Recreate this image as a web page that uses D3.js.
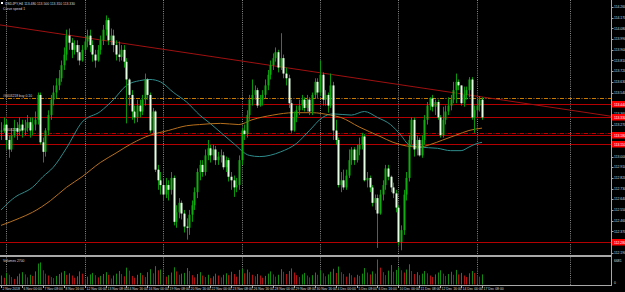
<!DOCTYPE html>
<html>
<head>
<meta charset="utf-8">
<script src="https://cdn.jsdelivr.net/npm/d3@7"></script>
<style>
  body { margin: 0; background: #000; }
  svg { display: block; font-family: "Liberation Sans", Arial, sans-serif; }
</style>
</head>
<body>
<div id="chart"></div>
<script>
// USDJPY H4 bars, 2 Nov 16:00 .. 17 Dec 08:00
const open = [
  113.21,113.22,113.27,113.14,113.06,113.18,113.24,113.21,113.27,113.22,
  113.24,113.29,113.22,113.27,113.31,113.52,113.12,113.04,113.22,113.35,
  113.48,113.54,113.60,113.66,113.77,113.86,114.02,113.96,113.90,113.94,
  113.88,113.81,113.90,113.97,114.02,113.94,113.86,113.81,113.90,113.98,
  114.07,114.15,113.98,114.02,113.94,113.86,113.84,113.90,113.80,113.65,
  113.52,113.38,113.33,113.43,113.38,113.48,113.65,113.52,113.22,113.38,
  112.89,112.80,112.76,112.68,112.76,112.72,112.82,112.45,112.53,112.61,
  112.52,112.41,112.40,112.51,112.59,112.70,112.87,112.93,112.87,113.01,
  113.07,113.01,113.06,112.97,113.00,113.01,112.91,112.97,112.83,112.80,
  112.74,112.76,112.97,113.22,113.19,113.35,113.48,113.52,113.56,113.43,
  113.48,113.52,113.60,113.69,113.77,113.83,113.88,113.75,113.83,113.70,
  113.66,113.45,113.22,113.33,113.39,113.43,113.48,113.41,113.48,113.38,
  113.52,113.63,113.54,113.69,113.48,113.52,113.43,113.60,113.22,113.14,
  112.76,112.80,112.74,112.84,112.97,113.06,112.97,113.06,113.10,113.17,
  112.80,112.82,112.74,112.61,112.65,112.52,112.68,112.76,112.90,112.83,
  112.74,112.69,112.57,112.28,112.38,112.68,112.82,113.14,113.31,113.06,
  113.14,113.01,113.14,113.31,113.43,113.49,113.42,113.46,113.33,113.18,
  113.31,113.38,113.43,113.48,113.56,113.63,113.60,113.45,113.52,113.56,
  113.65,113.33,113.39,113.43,113.48
];
const high = [
  113.29,113.33,113.31,113.18,113.24,113.31,113.29,113.33,113.31,113.31,
  113.35,113.33,113.33,113.38,113.54,113.54,113.16,113.24,113.39,113.52,
  113.60,113.66,113.73,113.81,113.92,114.07,114.08,114.00,113.98,113.98,
  113.94,113.94,114.02,114.07,114.07,113.98,113.90,113.94,114.02,114.11,
  114.19,114.17,114.08,114.07,113.98,113.97,113.94,113.94,113.83,113.66,
  113.56,113.43,113.48,113.48,113.52,113.70,113.66,113.54,113.41,113.39,
  112.93,112.87,112.82,112.82,112.80,112.87,112.84,112.59,112.65,112.63,
  112.55,112.48,112.55,112.63,112.74,112.90,112.97,112.97,113.06,113.14,
  113.10,113.10,113.09,113.04,113.06,113.04,113.00,112.99,112.87,112.84,
  112.82,113.01,113.24,113.27,113.39,113.52,113.65,113.60,113.58,113.52,
  113.56,113.65,113.73,113.81,113.87,113.92,113.90,114.04,113.86,113.75,
  113.69,113.48,113.38,113.43,113.48,113.52,113.50,113.52,113.50,113.54,
  113.66,113.66,113.81,113.71,113.56,113.54,113.70,113.63,113.31,113.16,
  112.87,112.89,112.89,113.06,113.08,113.08,113.10,113.16,113.20,113.19,
  112.87,112.84,112.76,112.68,112.68,112.72,112.80,112.93,112.93,112.84,
  112.78,112.72,112.59,112.42,112.72,112.87,113.18,113.33,113.33,113.18,
  113.16,113.18,113.35,113.46,113.50,113.52,113.48,113.48,113.35,113.42,
  113.43,113.50,113.52,113.63,113.70,113.65,113.60,113.59,113.59,113.67,
  113.67,113.43,113.48,113.51,113.50
];
const low = [
  113.14,113.20,113.06,112.99,113.04,113.16,113.14,113.18,113.16,113.18,
  113.21,113.16,113.18,113.22,113.27,113.10,112.95,113.00,113.18,113.31,
  113.43,113.49,113.56,113.63,113.73,113.81,113.90,113.83,113.86,113.81,
  113.77,113.80,113.86,113.92,113.88,113.80,113.75,113.80,113.86,113.94,
  114.02,113.94,113.94,113.88,113.81,113.80,113.81,113.75,113.28,113.43,
  113.31,113.28,113.29,113.33,113.35,113.43,113.48,113.20,113.18,112.87,
  112.72,112.68,112.63,112.65,112.63,112.68,112.42,112.40,112.48,112.47,
  112.36,112.30,112.34,112.45,112.55,112.65,112.80,112.83,112.84,112.97,
  112.95,112.97,112.93,112.93,112.95,112.89,112.87,112.79,112.72,112.66,
  112.70,112.72,112.93,113.14,113.16,113.31,113.43,113.48,113.41,113.42,
  113.43,113.49,113.56,113.65,113.73,113.80,113.71,113.73,113.66,113.60,
  113.41,113.20,113.21,113.29,113.35,113.39,113.38,113.38,113.35,113.35,
  113.49,113.49,113.51,113.43,113.43,113.37,113.41,113.14,113.10,112.74,
  112.70,112.72,112.72,112.82,112.93,112.93,112.95,113.01,113.06,112.79,
  112.74,112.70,112.58,112.55,112.23,112.51,112.63,112.72,112.80,112.70,
  112.65,112.53,112.25,112.21,112.34,112.63,112.79,113.10,113.00,113.01,
  113.00,112.99,113.10,113.27,113.39,113.38,113.35,113.31,113.16,113.16,
  113.27,113.35,113.39,113.45,113.45,113.56,113.43,113.42,113.48,113.50,
  113.31,113.20,113.33,113.38,113.31
];
const close = [
  113.22,113.27,113.14,113.06,113.18,113.24,113.21,113.27,113.22,113.24,
  113.29,113.22,113.27,113.31,113.52,113.12,113.04,113.22,113.35,113.48,
  113.54,113.60,113.66,113.77,113.86,114.02,113.96,113.90,113.94,113.88,
  113.81,113.90,113.97,114.02,113.94,113.86,113.81,113.90,113.98,114.07,
  114.15,113.98,114.02,113.94,113.86,113.84,113.90,113.80,113.65,113.52,
  113.38,113.33,113.43,113.38,113.48,113.65,113.52,113.22,113.38,112.89,
  112.80,112.76,112.68,112.76,112.72,112.82,112.45,112.53,112.61,112.52,
  112.41,112.40,112.51,112.59,112.70,112.87,112.93,112.87,113.01,113.07,
  113.01,113.06,112.97,113.00,113.01,112.91,112.97,112.83,112.80,112.74,
  112.76,112.97,113.22,113.19,113.35,113.48,113.52,113.56,113.43,113.48,
  113.52,113.60,113.69,113.77,113.83,113.88,113.75,113.83,113.70,113.66,
  113.45,113.22,113.33,113.39,113.43,113.48,113.41,113.48,113.38,113.52,
  113.63,113.54,113.69,113.48,113.52,113.43,113.60,113.22,113.14,112.76,
  112.80,112.74,112.84,112.97,113.06,112.97,113.06,113.10,113.17,112.80,
  112.82,112.74,112.61,112.65,112.52,112.68,112.76,112.90,112.83,112.74,
  112.69,112.57,112.28,112.38,112.68,112.82,113.14,113.31,113.06,113.14,
  113.01,113.14,113.31,113.43,113.49,113.42,113.46,113.33,113.18,113.31,
  113.38,113.43,113.48,113.56,113.63,113.60,113.45,113.52,113.56,113.65,
  113.33,113.39,113.43,113.48,113.33
];
const volume = [
  2400,1800,3100,2600,2000,1500,2200,2900,3300,2700,
  1900,2600,2300,3500,5600,5900,3800,2900,2400,2000,
  1700,2300,2800,3200,3600,2600,3000,2400,1800,2200,
  3500,2900,1500,2100,2700,3100,2500,1900,2300,2800,
  3300,2600,1600,2400,2900,3600,2800,2200,4500,3700,
  2300,1800,2600,3100,2500,2000,3300,4100,3000,4900,
  3800,4000,2700,2100,2500,3200,4600,3500,2600,2900,
  3100,4400,3600,2500,1900,2800,3300,2400,2000,2600,
  1700,2200,2900,2400,1900,2600,3000,2500,3400,2800,
  2100,3900,4200,3000,4000,3300,2600,2200,2800,2400,
  1800,2300,2900,3500,2700,2100,2600,4100,3400,2800,
  3600,4300,3200,2500,2000,2700,3100,2400,1900,2500,
  3200,2600,3800,3000,2200,2700,3400,4200,3100,4800,
  3300,2800,2100,3000,2500,1900,2600,2300,2900,4400,
  3200,2700,3500,2900,6681,4500,3300,2500,3700,5200,
  3400,3900,4600,3800,3200,4000,5400,3600,2800,3300,
  2500,2900,3600,3000,2400,2000,2700,3200,3800,2900,
  2300,2800,3400,2600,3900,2700,3100,2400,2000,3000,
  3600,3100,2500,2100,2700
];

// time axis: a label every 8 bars
const timeLabels = ["2 Nov 2018","6 Nov 00:00","7 Nov 08:00","8 Nov 16:00","12 Nov 00:00",
  "13 Nov 08:00","14 Nov 16:00","16 Nov 00:00","19 Nov 08:00","20 Nov 16:00","22 Nov 00:00",
  "23 Nov 08:00","26 Nov 16:00","28 Nov 00:00","29 Nov 08:00","30 Nov 16:00","4 Dec 00:00",
  "5 Dec 08:00","6 Dec 16:00","10 Dec 00:00","11 Dec 08:00","12 Dec 16:00","14 Dec 00:00",
  "17 Dec 08:00"];
const priceTicks = [114.26,114.17,114.08,113.99,113.90,113.81,113.72,113.63,113.54,113.45,
  113.36,113.27,113.18,113.09,113.00,112.91,112.82,112.73,112.64,112.55,112.46,112.37,
  112.28,112.19];

// week separators (Monday 00:00 bars) and the chart shift marker
const separatorBars = [2, 32, 62, 92, 122, 152, 182];
const shiftBar = 217.7;

// moving averages [bar, price]
const maTeal = [[0,112.55],[7,112.68],[8,112.69],[12,112.74],[16,112.83],[20,112.91],
  [25,113.07],[31,113.29],[38,113.38],[43,113.48],[48,113.60],[53,113.64],[57,113.65],
  [61,113.63],[66,113.54],[71,113.46],[76,113.35],[80,113.28],[89,113.11],[95,113.01],
  [99,113.00],[107,113.04],[113,113.11],[118,113.22],[123,113.33],[127,113.36],[134,113.35],
  [139,113.38],[144,113.33],[149,113.27],[153,113.18],[156,113.10],[160,113.08],[167,113.07],
  [172,113.05],[176,113.05],[179,113.08],[182,113.11],[184,113.12]];
const maOrange = [[0,112.42],[7,112.48],[12,112.53],[19,112.63],[25,112.74],[31,112.83],
  [38,112.95],[44,113.03],[50,113.11],[57,113.18],[64,113.22],[71,113.26],[76,113.27],
  [84,113.28],[91,113.27],[96,113.31],[104,113.35],[112,113.37],[119,113.37],[126,113.35],
  [130,113.33],[137,113.25],[145,113.17],[150,113.12],[155,113.09],[160,113.08],[164,113.10],
  [169,113.14],[174,113.18],[179,113.22],[184,113.24]];

// trend line and horizontal levels
const trendBars = [-0.4, 233.4];
const trendPrices = [114.11, 113.34];
const redLevels = [113.44, 113.33, 113.18, 113.11, 112.28];
const orderOpen = 113.49;
const orderStop = 113.20;

const W = 625, H = 292;
const axisX = 611, mainBottom = 255;
const fontSize = 3.4;

const svg = d3.select("#chart").append("svg")
  .attr("width", W).attr("height", H);
svg.append("rect").attr("width", W).attr("height", H).attr("fill", "#000");

const x = d3.scaleLinear().domain([0, 184]).range([1, 482]);
const y = d3.scaleLinear().domain([112.21, 114.32]).range([250.3, 0]);
const yv = d3.scaleLinear().domain([0, 6681]).range([284.5, 259.5]);
const px = i => Math.round(x(i));

svg.append("clipPath").attr("id", "main")
  .append("rect").attr("x", 0).attr("y", 0).attr("width", axisX).attr("height", mainBottom);

// separators
svg.append("g").selectAll("line")
  .data(separatorBars.concat([shiftBar]))
  .join("line")
    .attr("x1", d => px(d) + 0.5).attr("x2", d => px(d) + 0.5)
    .attr("y1", 0).attr("y2", 285)
    .attr("stroke", "#8a8a8a").attr("stroke-dasharray", "1,1.2");

const main = svg.append("g").attr("clip-path", "url(#main)");

// horizontal levels
main.selectAll("line.lvl")
  .data(redLevels)
  .join("line").attr("class", "lvl")
    .attr("x1", 0).attr("x2", axisX)
    .attr("y1", d => Math.round(y(d)) + 0.5).attr("y2", d => Math.round(y(d)) + 0.5)
    .attr("stroke", "#b40000");
main.append("line")
  .attr("x1", 0).attr("x2", axisX)
  .attr("y1", Math.round(y(orderOpen)) + 0.5).attr("y2", Math.round(y(orderOpen)) + 0.5)
  .attr("stroke", "#c97a00").attr("stroke-dasharray", "4,1.5,1,1.5");
main.append("line")
  .attr("x1", 0).attr("x2", axisX)
  .attr("y1", Math.round(y(orderStop)) + 0.5).attr("y2", Math.round(y(orderStop)) + 0.5)
  .attr("stroke", "#c00000").attr("stroke-dasharray", "4,1.5,1,1.5");

// trend line
main.append("line")
  .attr("x1", x(trendBars[0])).attr("y1", y(trendPrices[0]))
  .attr("x2", x(trendBars[1])).attr("y2", y(trendPrices[1]))
  .attr("stroke", "#a01010").attr("stroke-width", 1);

// moving averages
const maLine = d3.line().x(d => x(d[0])).y(d => y(d[1])).curve(d3.curveMonotoneX);
main.append("path").datum(maTeal).attr("d", maLine)
  .attr("fill", "none").attr("stroke", "#2f8c8c").attr("stroke-width", 1);
main.append("path").datum(maOrange).attr("d", maLine)
  .attr("fill", "none").attr("stroke", "#b8701c").attr("stroke-width", 1);

// candles
const bars = d3.range(close.length);
main.append("g").selectAll("line")
  .data(bars)
  .join("line")
    .attr("x1", i => px(i) + 0.5).attr("x2", i => px(i) + 0.5)
    .attr("y1", i => y(high[i])).attr("y2", i => y(low[i]))
    .attr("stroke", "#0a960a");
main.append("g").selectAll("rect")
  .data(bars)
  .join("rect")
    .attr("x", i => px(i) - 0.5)
    .attr("width", 2)
    .attr("y", i => y(Math.max(open[i], close[i])))
    .attr("height", i => Math.max(1, Math.abs(y(open[i]) - y(close[i]))))
    .attr("fill", i => close[i] >= open[i] ? "#0fae0f" : "#e4ffe4");

// volume bars: green when volume rises, red when it falls
svg.append("g").selectAll("line")
  .data(bars)
  .join("line")
    .attr("x1", i => px(i) + 0.5).attr("x2", i => px(i) + 0.5)
    .attr("y1", yv(0)).attr("y2", i => yv(volume[i]))
    .attr("stroke", i => (i === 0 || volume[i] > volume[i - 1]) ? "#118a11" : "#b01010");

// frame
svg.append("rect").attr("x", 0).attr("y", mainBottom).attr("width", axisX).attr("height", 2)
  .attr("fill", "#a8a8a8");
svg.append("line").attr("x1", 0).attr("x2", axisX + 1).attr("y1", 285.5).attr("y2", 285.5)
  .attr("stroke", "#a8a8a8");
svg.append("line").attr("x1", axisX + 0.5).attr("x2", axisX + 0.5).attr("y1", 0).attr("y2", 286)
  .attr("stroke", "#a8a8a8");

const txt = "#d8d8d8";

// price axis
const pa = svg.append("g");
pa.selectAll("text")
  .data(priceTicks)
  .join("text")
    .attr("x", axisX + 3).attr("y", d => y(d))
    .attr("dy", "0.35em")
    .attr("font-size", fontSize).attr("fill", txt)
    .text(d => d.toFixed(3));
pa.selectAll("line")
  .data(priceTicks)
  .join("line")
    .attr("x1", axisX + 1).attr("x2", axisX + 2.5)
    .attr("y1", d => Math.round(y(d)) + 0.5).attr("y2", d => Math.round(y(d)) + 0.5)
    .attr("stroke", "#a8a8a8");

// red price labels for the levels
const rl = svg.append("g").selectAll("g")
  .data(redLevels)
  .join("g")
    .attr("transform", d => `translate(${axisX + 1},${Math.round(y(d))})`);
rl.append("rect").attr("x", 0).attr("y", -3).attr("width", 14).attr("height", 6.5)
  .attr("fill", "#ff0000");
rl.append("text").attr("x", 2).attr("y", 0.5).attr("dy", "0.35em")
  .attr("font-size", fontSize).attr("fill", "#fff")
  .text(d => d.toFixed(3));

// volume axis
svg.append("text").attr("x", axisX + 3).attr("y", 261).attr("dy", "0.35em")
  .attr("font-size", fontSize).attr("fill", txt).text(d3.max(volume));
svg.append("text").attr("x", axisX + 3).attr("y", 283).attr("dy", "0.35em")
  .attr("font-size", fontSize).attr("fill", txt).text("0");

// time axis
const ta = svg.append("g").selectAll("g")
  .data(timeLabels)
  .join("g")
    .attr("transform", (d, k) => `translate(${px(k * 8)},0)`);
ta.append("line").attr("x1", 0.5).attr("x2", 0.5).attr("y1", 286).attr("y2", 288)
  .attr("stroke", "#a8a8a8");
ta.append("text").attr("x", 1.5).attr("y", 289.5)
  .attr("font-size", fontSize).attr("fill", txt).text(d => d);

// header and labels
svg.append("rect").attr("x", 1).attr("y", 2).attr("width", 2).attr("height", 2).attr("fill", "#fff");
const last = close.length - 1;
svg.append("text").attr("x", 5).attr("y", 4.5)
  .attr("font-size", fontSize).attr("fill", txt)
  .text(`USDJPY,H4  ${open[last].toFixed(3)} ${high[last].toFixed(3)} ${low[last].toFixed(3)} ${close[last].toFixed(3)}`);
svg.append("text").attr("x", 3).attr("y", 9.5)
  .attr("font-size", fontSize).attr("fill", txt).text("Curve speed 1");
svg.append("text").attr("x", 3).attr("y", 262)
  .attr("font-size", fontSize).attr("fill", txt).text("Volumes " + volume[last]);
svg.append("text").attr("x", 3).attr("y", y(orderOpen) - 1.5)
  .attr("font-size", fontSize).attr("fill", txt).text("#6403218 buy 0.10");
svg.append("text").attr("x", 3).attr("y", y(orderStop) - 1.5)
  .attr("font-size", fontSize).attr("fill", txt).text("#6403218 sl");
</script>
</body>
</html>
